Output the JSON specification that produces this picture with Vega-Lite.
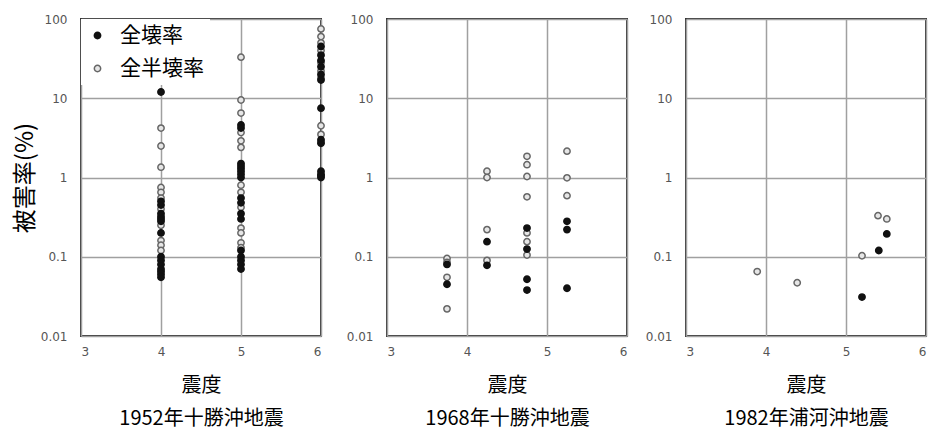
{
  "$schema": "https://vega.github.io/schema/vega-lite/v6.json",
  "background": "white",
  "padding": {"left": 12, "top": 12, "right": 2, "bottom": 2},
  "spacing": 16,
  "data": {"values": [
    {"q":"1952","x":4,"v":4.2,"t":"全半壊率"},{"q":"1952","x":4,"v":2.5,"t":"全半壊率"},{"q":"1952","x":4,"v":1.35,"t":"全半壊率"},{"q":"1952","x":4,"v":0.75,"t":"全半壊率"},{"q":"1952","x":4,"v":0.65,"t":"全半壊率"},{"q":"1952","x":4,"v":0.55,"t":"全半壊率"},{"q":"1952","x":4,"v":0.4,"t":"全半壊率"},{"q":"1952","x":4,"v":0.25,"t":"全半壊率"},{"q":"1952","x":4,"v":0.16,"t":"全半壊率"},{"q":"1952","x":4,"v":0.14,"t":"全半壊率"},{"q":"1952","x":4,"v":0.12,"t":"全半壊率"},
    {"q":"1952","x":5,"v":33,"t":"全半壊率"},{"q":"1952","x":5,"v":9.5,"t":"全半壊率"},{"q":"1952","x":5,"v":6.5,"t":"全半壊率"},{"q":"1952","x":5,"v":3.7,"t":"全半壊率"},{"q":"1952","x":5,"v":2.9,"t":"全半壊率"},{"q":"1952","x":5,"v":2.4,"t":"全半壊率"},{"q":"1952","x":5,"v":0.8,"t":"全半壊率"},{"q":"1952","x":5,"v":0.65,"t":"全半壊率"},{"q":"1952","x":5,"v":0.42,"t":"全半壊率"},{"q":"1952","x":5,"v":0.23,"t":"全半壊率"},{"q":"1952","x":5,"v":0.2,"t":"全半壊率"},{"q":"1952","x":5,"v":0.15,"t":"全半壊率"},{"q":"1952","x":5,"v":0.13,"t":"全半壊率"},
    {"q":"1952","x":6,"v":75,"t":"全半壊率"},{"q":"1952","x":6,"v":60,"t":"全半壊率"},{"q":"1952","x":6,"v":50,"t":"全半壊率"},{"q":"1952","x":6,"v":40,"t":"全半壊率"},{"q":"1952","x":6,"v":28,"t":"全半壊率"},{"q":"1952","x":6,"v":22,"t":"全半壊率"},{"q":"1952","x":6,"v":18,"t":"全半壊率"},{"q":"1952","x":6,"v":4.5,"t":"全半壊率"},{"q":"1952","x":6,"v":3.5,"t":"全半壊率"},{"q":"1952","x":6,"v":2.8,"t":"全半壊率"},
    {"q":"1952","x":4,"v":12,"t":"全壊率"},{"q":"1952","x":4,"v":0.5,"t":"全壊率"},{"q":"1952","x":4,"v":0.45,"t":"全壊率"},{"q":"1952","x":4,"v":0.35,"t":"全壊率"},{"q":"1952","x":4,"v":0.32,"t":"全壊率"},{"q":"1952","x":4,"v":0.3,"t":"全壊率"},{"q":"1952","x":4,"v":0.28,"t":"全壊率"},{"q":"1952","x":4,"v":0.2,"t":"全壊率"},{"q":"1952","x":4,"v":0.1,"t":"全壊率"},{"q":"1952","x":4,"v":0.09,"t":"全壊率"},{"q":"1952","x":4,"v":0.08,"t":"全壊率"},{"q":"1952","x":4,"v":0.07,"t":"全壊率"},{"q":"1952","x":4,"v":0.065,"t":"全壊率"},{"q":"1952","x":4,"v":0.06,"t":"全壊率"},{"q":"1952","x":4,"v":0.055,"t":"全壊率"},
    {"q":"1952","x":5,"v":4.6,"t":"全壊率"},{"q":"1952","x":5,"v":4.2,"t":"全壊率"},{"q":"1952","x":5,"v":1.5,"t":"全壊率"},{"q":"1952","x":5,"v":1.4,"t":"全壊率"},{"q":"1952","x":5,"v":1.3,"t":"全壊率"},{"q":"1952","x":5,"v":1.2,"t":"全壊率"},{"q":"1952","x":5,"v":1.1,"t":"全壊率"},{"q":"1952","x":5,"v":1.0,"t":"全壊率"},{"q":"1952","x":5,"v":0.55,"t":"全壊率"},{"q":"1952","x":5,"v":0.48,"t":"全壊率"},{"q":"1952","x":5,"v":0.35,"t":"全壊率"},{"q":"1952","x":5,"v":0.3,"t":"全壊率"},{"q":"1952","x":5,"v":0.12,"t":"全壊率"},{"q":"1952","x":5,"v":0.1,"t":"全壊率"},{"q":"1952","x":5,"v":0.09,"t":"全壊率"},{"q":"1952","x":5,"v":0.08,"t":"全壊率"},{"q":"1952","x":5,"v":0.07,"t":"全壊率"},
    {"q":"1952","x":6,"v":45,"t":"全壊率"},{"q":"1952","x":6,"v":35,"t":"全壊率"},{"q":"1952","x":6,"v":30,"t":"全壊率"},{"q":"1952","x":6,"v":25,"t":"全壊率"},{"q":"1952","x":6,"v":20,"t":"全壊率"},{"q":"1952","x":6,"v":17,"t":"全壊率"},{"q":"1952","x":6,"v":7.5,"t":"全壊率"},{"q":"1952","x":6,"v":3.0,"t":"全壊率"},{"q":"1952","x":6,"v":2.7,"t":"全壊率"},{"q":"1952","x":6,"v":1.2,"t":"全壊率"},{"q":"1952","x":6,"v":1.1,"t":"全壊率"},{"q":"1952","x":6,"v":1.05,"t":"全壊率"},{"q":"1952","x":6,"v":1.0,"t":"全壊率"},
    {"q":"1968","x":3.75,"v":0.095,"t":"全半壊率"},{"q":"1968","x":3.75,"v":0.085,"t":"全半壊率"},{"q":"1968","x":3.75,"v":0.055,"t":"全半壊率"},{"q":"1968","x":3.75,"v":0.022,"t":"全半壊率"},
    {"q":"1968","x":4.25,"v":1.2,"t":"全半壊率"},{"q":"1968","x":4.25,"v":1.0,"t":"全半壊率"},{"q":"1968","x":4.25,"v":0.22,"t":"全半壊率"},{"q":"1968","x":4.25,"v":0.09,"t":"全半壊率"},
    {"q":"1968","x":4.75,"v":1.85,"t":"全半壊率"},{"q":"1968","x":4.75,"v":1.45,"t":"全半壊率"},{"q":"1968","x":4.75,"v":1.03,"t":"全半壊率"},{"q":"1968","x":4.75,"v":0.57,"t":"全半壊率"},{"q":"1968","x":4.75,"v":0.2,"t":"全半壊率"},{"q":"1968","x":4.75,"v":0.155,"t":"全半壊率"},{"q":"1968","x":4.75,"v":0.105,"t":"全半壊率"},
    {"q":"1968","x":5.25,"v":2.15,"t":"全半壊率"},{"q":"1968","x":5.25,"v":0.99,"t":"全半壊率"},{"q":"1968","x":5.25,"v":0.59,"t":"全半壊率"},
    {"q":"1968","x":3.75,"v":0.08,"t":"全壊率"},{"q":"1968","x":3.75,"v":0.045,"t":"全壊率"},
    {"q":"1968","x":4.25,"v":0.155,"t":"全壊率"},{"q":"1968","x":4.25,"v":0.078,"t":"全壊率"},
    {"q":"1968","x":4.75,"v":0.23,"t":"全壊率"},{"q":"1968","x":4.75,"v":0.125,"t":"全壊率"},{"q":"1968","x":4.75,"v":0.052,"t":"全壊率"},{"q":"1968","x":4.75,"v":0.038,"t":"全壊率"},
    {"q":"1968","x":5.25,"v":0.28,"t":"全壊率"},{"q":"1968","x":5.25,"v":0.22,"t":"全壊率"},{"q":"1968","x":5.25,"v":0.04,"t":"全壊率"},
    {"q":"1982","x":3.89,"v":0.065,"t":"全半壊率"},{"q":"1982","x":4.39,"v":0.047,"t":"全半壊率"},{"q":"1982","x":5.2,"v":0.103,"t":"全半壊率"},{"q":"1982","x":5.4,"v":0.33,"t":"全半壊率"},{"q":"1982","x":5.51,"v":0.3,"t":"全半壊率"},
    {"q":"1982","x":5.2,"v":0.031,"t":"全壊率"},{"q":"1982","x":5.41,"v":0.12,"t":"全壊率"},{"q":"1982","x":5.51,"v":0.194,"t":"全壊率"}
  ]},
  "resolve": {"legend": {"fill": "independent", "stroke": "independent"}},
  "hconcat": [
    {
      "width": 240, "height": 317,
      "transform": [{"filter": "datum.q == '1952'"}],
      "mark": {"type": "point", "filled": false, "size": 40, "strokeWidth": 1.5, "opacity": 1},
      "encoding": {
        "x": {"field": "x", "type": "quantitative", "scale": {"domain": [3, 6], "nice": false}, "axis": {"values": [3,4,5,6], "title": ["震度", "1952年十勝沖地震"]}},
        "y": {"field": "v", "type": "quantitative", "scale": {"type": "log", "domain": [0.01, 100], "nice": false}, "axis": {"values": [0.01,0.1,1,10,100], "format": "~g", "title": "被害率(%)"}},
        "fill": {"field": "t", "type": "nominal", "scale": {"domain": ["全壊率", "全半壊率"], "range": ["#111111", "#e6e6e6"]}, "legend": {"orient": "top-left", "offset": 0, "title": null, "fillColor": "white", "padding": 6, "labelFontSize": 21, "labelFont": "Noto Sans CJK JP", "labelColor": "black", "symbolSize": 40, "symbolStrokeWidth": 1.5, "rowPadding": 11, "labelOffset": 12}},
        "stroke": {"field": "t", "type": "nominal", "scale": {"domain": ["全壊率", "全半壊率"], "range": ["#111111", "#666666"]}, "legend": {"orient": "top-left", "offset": 0, "title": null, "fillColor": "white", "padding": 6, "labelFontSize": 21, "labelFont": "Noto Sans CJK JP", "labelColor": "black", "symbolSize": 40, "symbolStrokeWidth": 1.5, "rowPadding": 11, "labelOffset": 12}}
      }
    },
    {
      "width": 240, "height": 317,
      "transform": [{"filter": "datum.q == '1968'"}],
      "mark": {"type": "point", "filled": false, "size": 40, "strokeWidth": 1.5, "opacity": 1},
      "encoding": {
        "x": {"field": "x", "type": "quantitative", "scale": {"domain": [3, 6], "nice": false}, "axis": {"values": [3,4,5,6], "title": ["震度", "1968年十勝沖地震"]}},
        "y": {"field": "v", "type": "quantitative", "scale": {"type": "log", "domain": [0.01, 100], "nice": false}, "axis": {"values": [0.01,0.1,1,10,100], "format": "~g", "title": null}},
        "fill": {"field": "t", "type": "nominal", "scale": {"domain": ["全壊率", "全半壊率"], "range": ["#111111", "#e6e6e6"]}, "legend": null},
        "stroke": {"field": "t", "type": "nominal", "scale": {"domain": ["全壊率", "全半壊率"], "range": ["#111111", "#666666"]}, "legend": null}
      }
    },
    {
      "width": 240, "height": 317,
      "transform": [{"filter": "datum.q == '1982'"}],
      "mark": {"type": "point", "filled": false, "size": 40, "strokeWidth": 1.5, "opacity": 1},
      "encoding": {
        "x": {"field": "x", "type": "quantitative", "scale": {"domain": [3, 6], "nice": false}, "axis": {"values": [3,4,5,6], "title": ["震度", "1982年浦河沖地震"]}},
        "y": {"field": "v", "type": "quantitative", "scale": {"type": "log", "domain": [0.01, 100], "nice": false}, "axis": {"values": [0.01,0.1,1,10,100], "format": "~g", "title": null}},
        "fill": {"field": "t", "type": "nominal", "scale": {"domain": ["全壊率", "全半壊率"], "range": ["#111111", "#e6e6e6"]}, "legend": null},
        "stroke": {"field": "t", "type": "nominal", "scale": {"domain": ["全壊率", "全半壊率"], "range": ["#111111", "#666666"]}, "legend": null}
      }
    }
  ],
  "config": {
    "view": {"stroke": "#333333", "strokeWidth": 2},
    "axis": {
      "domain": false, "ticks": false,
      "grid": true, "gridColor": "#a0a0a0", "gridWidth": 1.5, "gridOpacity": 1,
      "labelFont": "DejaVu Sans", "labelFontSize": 12, "labelColor": "#555555", "labelPadding": 14,
      "titleFont": "Noto Sans CJK JP", "titleFontSize": 20, "titleFontWeight": "normal", "titleColor": "black"
    },
    "axisX": {"titlePadding": 18, "titleLineHeight": 33, "labelPadding": 10},
    "axisY": {"titleFontSize": 24, "titlePadding": 3}
  }
}
